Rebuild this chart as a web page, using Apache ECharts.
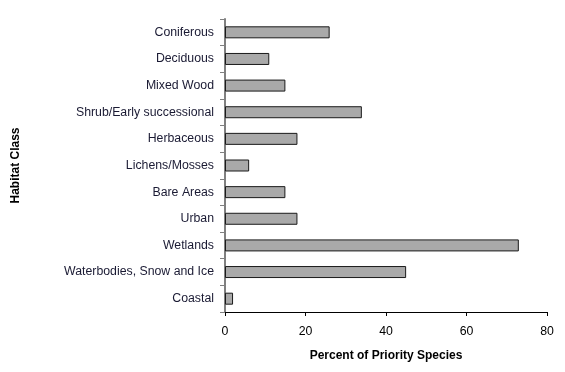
<!DOCTYPE html>
<html>
<head>
<meta charset="utf-8">
<script src="https://cdn.jsdelivr.net/npm/echarts@6/dist/echarts.min.js"></script>
<style>html,body{margin:0;padding:0;background:#fff;}#c{width:565px;height:372px;}</style>
</head>
<body>
<div id="c"></div>
<script>
var categories = ["Coniferous","Deciduous","Mixed Wood","Shrub/Early successional","Herbaceous","Lichens/Mosses","Bare Areas","Urban","Wetlands","Waterbodies, Snow and Ice","Coastal"];
var values = [26, 11, 15, 34, 18, 6, 15, 18, 73, 45, 2];
var xTicks = [0, 20, 40, 60, 80];

var chart = echarts.init(document.getElementById('c'), null, {renderer: 'canvas'});
chart.setOption({
  animation: false,
  backgroundColor: '#fff',
  grid: {left: 225, right: 18, top: 19, bottom: 60, containLabel: false},
  xAxis: {
    type: 'value', min: 0, max: 80, interval: 20,
    name: 'Percent of Priority Species', nameLocation: 'middle', nameGap: 38,
    nameTextStyle: {fontFamily: 'Liberation Sans', fontSize: 12, fontWeight: 'bold', color: '#000'},
    axisLine: {show: true, lineStyle: {color: '#000', width: 1}},
    axisTick: {show: true, length: 4, lineStyle: {color: '#000'}},
    axisLabel: {fontFamily: 'Liberation Sans', fontSize: 12.3, color: '#000', margin: 14,
      formatter: function (v) { return xTicks.indexOf(v) >= 0 ? String(v) : ''; }},
    splitLine: {show: false}
  },
  yAxis: {
    type: 'category', data: categories, inverse: true,
    name: 'Habitat Class', nameLocation: 'middle', nameGap: 203, nameRotate: 90,
    nameTextStyle: {fontFamily: 'Liberation Sans', fontSize: 12, fontWeight: 'bold', color: '#000'},
    axisLine: {show: true, lineStyle: {color: '#808080', width: 2}},
    axisTick: {show: true, length: 5, alignWithLabel: false, lineStyle: {color: '#808080', width: 1}},
    axisLabel: {fontFamily: 'Liberation Sans', fontSize: 12.3, color: '#1a1a33', margin: 11},
    splitLine: {show: false}
  },
  series: [{
    type: 'bar', data: values, barWidth: 12,
    itemStyle: {color: '#a9a9a9', borderColor: '#1a1a1a', borderWidth: 1}
  }]
});
</script>
</body>
</html>
